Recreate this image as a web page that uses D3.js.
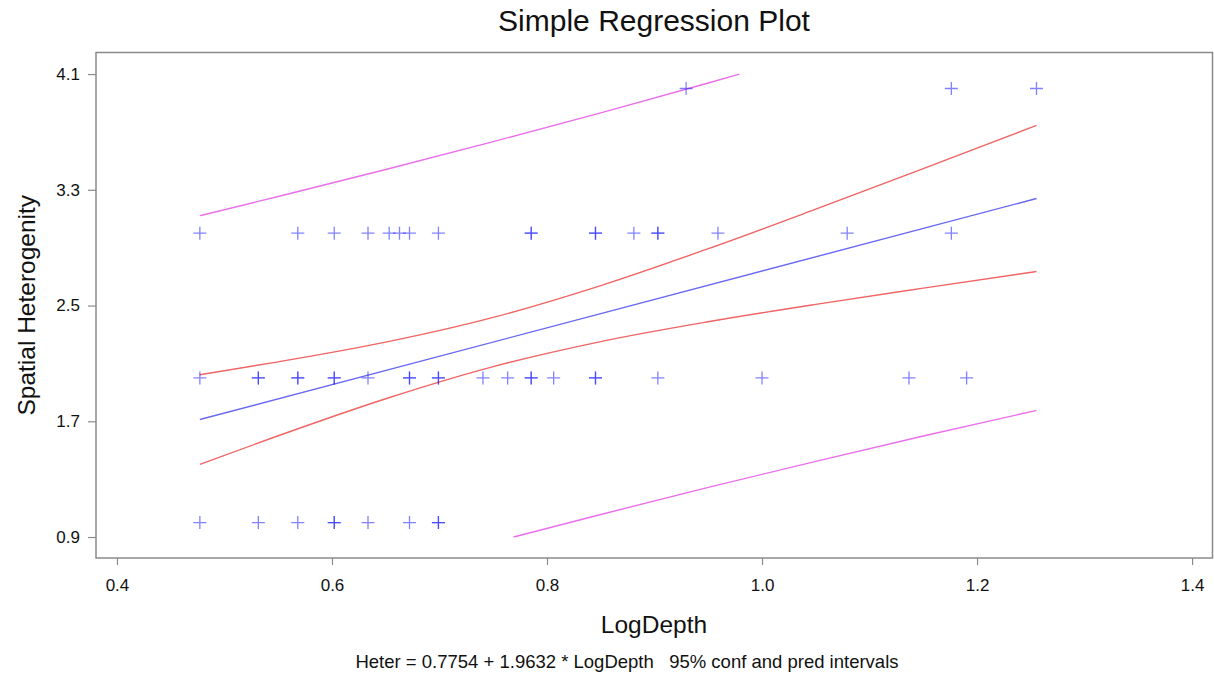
<!DOCTYPE html>
<html>
<head>
<meta charset="utf-8">
<script src="https://cdn.jsdelivr.net/npm/d3@7/dist/d3.min.js"></script>
<style>
  html, body { margin: 0; padding: 0; background: #fff; }
  svg { display: block; font-family: "Liberation Sans", Arial, sans-serif; }
</style>
</head>
<body>
<svg id="chart" width="1214" height="676"></svg>
<script>
// Observations: LogDepth (x) and Spatial Heterogenity (y); repeated pairs overplot.
const xValues = [
  0.4771, 0.5315, 0.5682, 0.6021, 0.6021, 0.6335, 0.6721, 0.6990, 0.6990,
  0.4771, 0.5315, 0.5315, 0.5682, 0.5682, 0.6021, 0.6021, 0.6335, 0.6721, 0.6721,
  0.6990, 0.6990, 0.7404, 0.7634, 0.7853, 0.7853, 0.8062, 0.8451, 0.8451, 0.9031,
  1.0000, 1.1367, 1.1903,
  0.4771, 0.5682, 0.6021, 0.6335, 0.6532, 0.6628, 0.6721, 0.6990, 0.7853, 0.7853,
  0.8451, 0.8451, 0.8808, 0.9031, 0.9031, 0.9590, 1.0792, 1.1761,
  0.9294, 1.1761, 1.2553
];
const yValues = [
  1, 1, 1, 1, 1, 1, 1, 1, 1,
  2, 2, 2, 2, 2, 2, 2, 2, 2, 2,
  2, 2, 2, 2, 2, 2, 2, 2, 2, 2,
  2, 2, 2,
  3, 3, 3, 3, 3, 3, 3, 3, 3, 3,
  3, 3, 3, 3, 3, 3, 3, 3,
  4, 4, 4
];

// Fitted line: Heter = 0.7754 + 1.9632 * LogDepth
const intercept = 0.7754;
const slope = 1.9632;
const fitX = [0.4771, 1.2553];

// 95% confidence limits for the mean
const bandX     = [0.4771, 0.55, 0.65, 0.75, 0.85, 0.95, 1.05, 1.15, 1.2553];
const confLower = [1.402, 1.600, 1.856, 2.078, 2.251, 2.388, 2.508, 2.620, 2.735];
const confUpper = [2.022, 2.111, 2.247, 2.418, 2.638, 2.893, 3.166, 3.446, 3.745];

// 95% prediction limits (cut at the axis range)
const predUpperX = [0.4771, 0.55, 0.65, 0.75, 0.85, 0.95, 0.979];
const predUpper  = [3.121, 3.254, 3.440, 3.633, 3.832, 4.038, 4.1];
const predLowerX = [0.769, 0.85, 0.95, 1.05, 1.15, 1.2553];
const predLower  = [0.9, 1.056, 1.243, 1.423, 1.598, 1.775];

const xTicks = [0.4, 0.6, 0.8, 1.0, 1.2, 1.4];
const yTicks = [0.9, 1.7, 2.5, 3.3, 4.1];

const titleText = "Simple Regression Plot";
const xLabel = "LogDepth";
const yLabel = "Spatial Heterogenity";
const footText = "Heter = 0.7754 + 1.9632 * LogDepth   95% conf and pred intervals";

// Layout
const plot = { left: 96, right: 1212.5, top: 52.5, bottom: 558 };
const svg = d3.select("#chart");

const x = d3.scaleLinear().domain([0.3805, 1.419]).range([plot.left, plot.right]);
const y = d3.scaleLinear().domain([0.755, 4.249]).range([plot.bottom, plot.top]);

const axisColor = "#8a8a8a";

// Axes
const gx = svg.append("g")
  .attr("transform", `translate(0,${plot.bottom})`)
  .call(d3.axisBottom(x).tickValues(xTicks).tickFormat(d3.format(".1f")).tickSize(7).tickPadding(14));
const gy = svg.append("g")
  .attr("transform", `translate(${plot.left},0)`)
  .call(d3.axisLeft(y).tickValues(yTicks).tickFormat(d3.format(".1f")).tickSize(8).tickPadding(8));

[gx, gy].forEach(g => {
  g.select(".domain").remove();
  g.selectAll(".tick line").attr("stroke", axisColor).attr("stroke-width", 1.2);
  g.selectAll(".tick text")
    .attr("fill", "#111")
    .style("font-size", "17px")
    .style("font-family", "'Liberation Sans', Arial, sans-serif");
});

// Plot frame
svg.append("rect")
  .attr("x", plot.left).attr("y", plot.top)
  .attr("width", plot.right - plot.left).attr("height", plot.bottom - plot.top)
  .attr("fill", "none").attr("stroke", axisColor).attr("stroke-width", 1.5);

const plotArea = svg.append("g");

function drawCurve(xs, ys, color) {
  const pts = xs.map((d, i) => [d, ys[i]]);
  plotArea.append("path")
    .datum(pts)
    .attr("fill", "none")
    .attr("stroke", color)
    .attr("stroke-width", 1.4)
    .attr("d", d3.line().x(d => x(d[0])).y(d => y(d[1])).curve(d3.curveMonotoneX));
}

drawCurve(bandX, confUpper, "#f06464");
drawCurve(bandX, confLower, "#f06464");
drawCurve(predUpperX, predUpper, "#ea6fea");
drawCurve(predLowerX, predLower, "#ea6fea");
drawCurve(fitX, fitX.map(v => intercept + slope * v), "#6868f2");

// Observation markers (plus signs)
const arm = 6.5;
plotArea.selectAll("path.obs")
  .data(xValues.map((d, i) => [d, yValues[i]]))
  .join("path")
  .attr("class", "obs")
  .attr("transform", d => `translate(${x(d[0])},${y(d[1])})`)
  .attr("d", `M${-arm},0H${arm}M0,${-arm}V${arm}`)
  .attr("fill", "none")
  .attr("stroke", "#1c1cff")
  .attr("stroke-opacity", 0.55)
  .attr("stroke-width", 1.3);

// Text
svg.append("text")
  .attr("x", 654).attr("y", 31)
  .attr("text-anchor", "middle")
  .style("font-size", "30px")
  .attr("fill", "#111")
  .text(titleText);

svg.append("text")
  .attr("x", 654).attr("y", 633)
  .attr("text-anchor", "middle")
  .style("font-size", "24.5px")
  .attr("fill", "#111")
  .text(xLabel);

svg.append("text")
  .attr("transform", `translate(35,${(plot.top + plot.bottom) / 2}) rotate(-90)`)
  .attr("text-anchor", "middle")
  .style("font-size", "24.5px")
  .attr("fill", "#111")
  .text(yLabel);

svg.append("text")
  .attr("x", 627).attr("y", 668)
  .attr("text-anchor", "middle")
  .style("font-size", "18.5px")
  .style("white-space", "pre")
  .attr("xml:space", "preserve")
  .attr("fill", "#111")
  .text(footText);
</script>
</body>
</html>
